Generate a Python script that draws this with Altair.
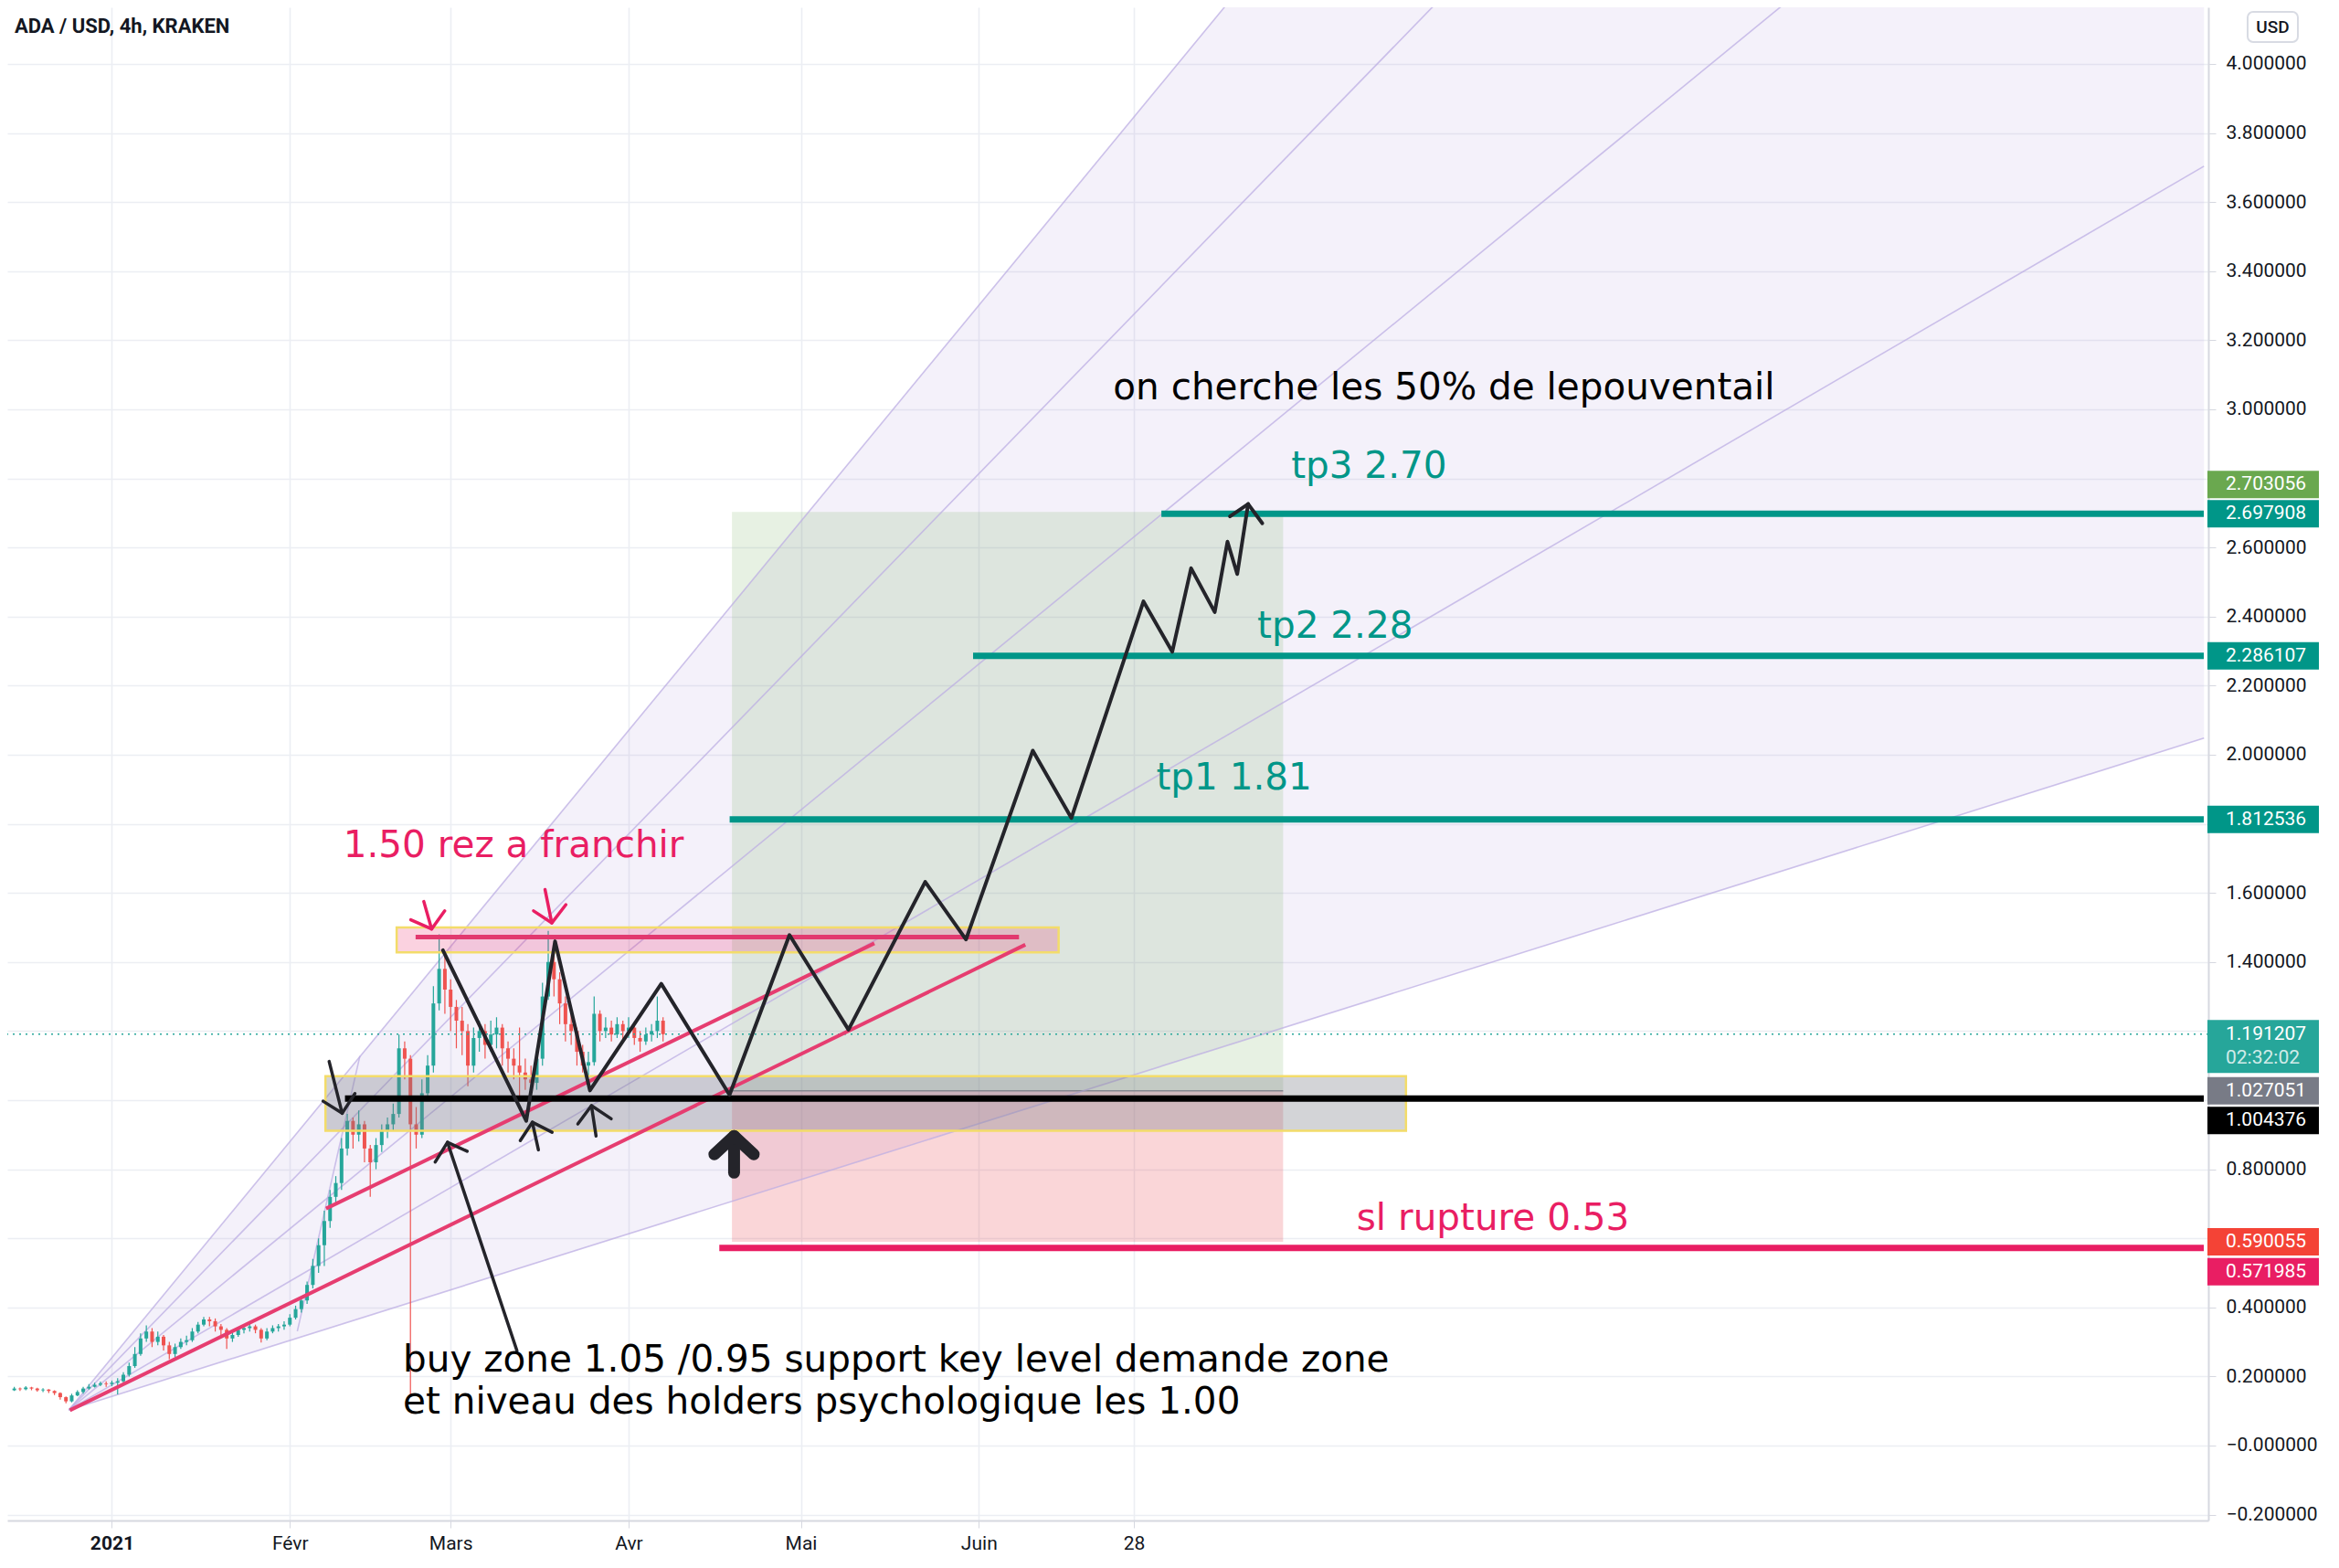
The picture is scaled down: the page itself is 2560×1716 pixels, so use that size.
import altair as alt
import pandas as pd

# ---------------- axes ----------------
X_MIN, X_MAX = -17.42, 364.36          # days from 2021-01-01
Y_MIN, Y_MAX = -0.217, 4.164           # price USD
x_tick_days = [0, 31, 59, 90, 120, 151, 178]
x_tick_labels = ["2021", "Févr", "Mars", "Avr", "Mai", "Juin", "28"]
y_ticks = [-0.2, 0.0, 0.2, 0.4, 0.6, 0.8, 1.0, 1.2, 1.4, 1.6, 1.8, 2.0, 2.2,
           2.4, 2.6, 2.8, 3.0, 3.2, 3.4, 3.6, 3.8, 4.0]
y_ticks_hidden = [0.6, 1.0, 1.2, 1.8, 2.8]   # covered by price labels

# ---------------- candles (daily, ADA/USD) ----------------
candle_day = list(range(-17, 97))
first_open = 0.160
candle_close = [0.165, 0.163, 0.168, 0.165, 0.160, 0.162, 0.158, 0.152, 0.140, 0.128,
                0.145, 0.155, 0.165, 0.170, 0.176, 0.180, 0.178, 0.182, 0.186, 0.205,
                0.230, 0.265, 0.310, 0.330, 0.300, 0.315, 0.290, 0.265, 0.285, 0.300,
                0.305, 0.330, 0.350, 0.365, 0.360, 0.345, 0.335, 0.310, 0.320, 0.335,
                0.340, 0.345, 0.335, 0.310, 0.330, 0.340, 0.345, 0.350, 0.370, 0.395,
                0.420, 0.465, 0.520, 0.580, 0.650, 0.720, 0.760, 0.860, 0.940, 0.900,
                0.930, 0.860, 0.820, 0.870, 0.910, 0.930, 0.960, 1.150, 1.120, 0.930,
                0.900, 1.020, 1.100, 1.280, 1.380, 1.320, 1.270, 1.230, 1.200, 1.100,
                1.180, 1.200, 1.160, 1.190, 1.210, 1.150, 1.120, 1.100, 1.080, 1.060,
                1.050, 1.120, 1.300, 1.400, 1.350, 1.280, 1.220, 1.200, 1.140, 1.100,
                1.110, 1.250, 1.200, 1.210, 1.190, 1.220, 1.200, 1.210, 1.180, 1.170,
                1.190, 1.200, 1.230, 1.191]
candle_high = [0.170, 0.168, 0.172, 0.170, 0.167, 0.166, 0.163, 0.160, 0.154, 0.142,
               0.150, 0.160, 0.170, 0.178, 0.182, 0.185, 0.186, 0.188, 0.195, 0.212,
               0.240, 0.285, 0.325, 0.348, 0.340, 0.330, 0.320, 0.300, 0.295, 0.310,
               0.318, 0.340, 0.358, 0.372, 0.372, 0.368, 0.352, 0.340, 0.330, 0.342,
               0.350, 0.355, 0.350, 0.340, 0.340, 0.348, 0.352, 0.360, 0.380, 0.405,
               0.430, 0.475, 0.540, 0.600, 0.680, 0.740, 0.780, 0.890, 0.960, 0.950,
               0.970, 0.940, 0.870, 0.890, 0.930, 0.950, 0.990, 1.190, 1.170, 1.130,
               0.980, 1.060, 1.130, 1.330, 1.480, 1.420, 1.350, 1.290, 1.270, 1.220,
               1.210, 1.230, 1.220, 1.230, 1.240, 1.220, 1.170, 1.150, 1.210, 1.120,
               1.100, 1.150, 1.340, 1.490, 1.440, 1.370, 1.300, 1.250, 1.210, 1.160,
               1.140, 1.300, 1.260, 1.240, 1.230, 1.240, 1.230, 1.240, 1.220, 1.200,
               1.210, 1.220, 1.300, 1.240]
candle_low = [0.158, 0.158, 0.160, 0.160, 0.156, 0.155, 0.152, 0.146, 0.133, 0.122,
              0.125, 0.143, 0.150, 0.162, 0.168, 0.172, 0.170, 0.172, 0.148, 0.182,
              0.200, 0.225, 0.260, 0.300, 0.285, 0.290, 0.275, 0.250, 0.255, 0.280,
              0.290, 0.300, 0.325, 0.345, 0.345, 0.330, 0.318, 0.280, 0.300, 0.315,
              0.325, 0.330, 0.325, 0.298, 0.305, 0.325, 0.330, 0.335, 0.345, 0.365,
              0.385, 0.410, 0.455, 0.500, 0.520, 0.630, 0.700, 0.740, 0.840, 0.860,
              0.880, 0.820, 0.720, 0.800, 0.850, 0.890, 0.910, 0.950, 1.060, 0.147,
              0.860, 0.890, 1.000, 1.080, 1.260, 1.250, 1.200, 1.150, 1.130, 1.040,
              1.080, 1.140, 1.120, 1.140, 1.150, 1.100, 1.080, 1.060, 1.010, 1.030,
              1.010, 1.030, 1.100, 1.290, 1.300, 1.220, 1.170, 1.160, 1.100, 1.080,
              1.070, 1.100, 1.170, 1.180, 1.170, 1.180, 1.170, 1.180, 1.160, 1.140,
              1.160, 1.170, 1.180, 1.170]

# ---------------- fan (origin + end points) ----------------
fan_origin_d, fan_origin_v = -7.5, 0.103
fan_end_d = [194.8, 231.2, 292.1, 364.4, 364.4]
fan_end_v = [4.185, 4.185, 4.185, 3.704, 2.048]
fan_anchor_d = [32.3, 43.2]
fan_anchor_v = [0.331, 1.128]

# ---------------- zigzag projection ----------------
zz_d = [57.65, 72.17, 77.19, 83.26, 95.69, 107.58, 118.02, 128.30, 141.66, 148.76,
        160.40, 167.13, 179.68, 184.69, 187.97, 192.09, 194.31, 196.01, 197.91]
zz_v = [1.434, 0.940, 1.460, 1.028, 1.337, 1.015, 1.478, 1.204, 1.632, 1.465,
        2.012, 1.817, 2.444, 2.298, 2.540, 2.413, 2.617, 2.523, 2.726]
zz_head_d = [194.74, 197.91, 200.38]
zz_head_v = [2.690, 2.726, 2.670]

# ---------------- hand drawn arrows (polylines) ----------------
black_arrows = [
    [(37.84, 1.112), (40.11, 0.962)], [(36.78, 0.997), (40.11, 0.962), (42.33, 1.019)],
    [(70.54, 0.275), (58.45, 0.878)], [(56.32, 0.821), (58.45, 0.878), (61.87, 0.852)],
    [(74.29, 0.856), (73.23, 0.936)], [(71.13, 0.883), (73.23, 0.936), (76.67, 0.907)],
    [(84.33, 0.896), (83.53, 0.984)], [(81.16, 0.931), (83.53, 0.984), (86.97, 0.946)],
]
big_arrow = [
    [(108.37, 0.790), (108.37, 0.896)], [(104.94, 0.843), (108.37, 0.896), (111.79, 0.843)],
]
pink_arrows = [
    [(54.33, 1.575), (55.69, 1.4955)], [(52.06, 1.522), (55.69, 1.4955), (57.97, 1.548)],
    [(75.44, 1.610), (76.62, 1.513)], [(73.44, 1.548), (76.62, 1.513), (79.08, 1.566)],
]

# ---------------- trend lines ----------------
pink_tl_d0 = [-7.32, 37.3]
pink_tl_v0 = [0.102, 0.686]
pink_tl_d1 = [159.1, 132.8]
pink_tl_v1 = [1.450, 1.454]

# ---------------- zones / position tool ----------------
res_zone = dict(d0=49.6, d1=164.9, v0=1.428, v1=1.500)
res_line = dict(d0=52.9, d1=158.0, v=1.472)
buy_zone = dict(d0=37.2, d1=225.4, v0=0.911, v1=1.0696)
pos_d0, pos_d1 = 108.0, 204.0
pos_target, pos_entry, pos_stop = 2.703056, 1.027051, 0.590055

level_names = ["tp3", "tp2", "tp1", "sl", "support"]
level_v = [2.697908, 2.286107, 1.812536, 0.571985, 1.004376]
level_start_d = [182.8, 150.0, 107.6, 105.8, 40.6]
level_color = ["#009688", "#009688", "#009688", "#e91e63", "#000000"]
last_price = 1.191207

# ---------------- annotations ----------------
note_text = ["1.50 rez a franchir",
             "buy zone 1.05 /0.95 support key level demande zone\n"
             "et niveau des holders psychologique les 1.00",
             "sl rupture 0.53", "tp1 1.81", "tp2 2.28", "tp3 2.70",
             "on cherche les 50% de lepouventail"]
note_d = [40.3, 50.7, 216.8, 181.9, 199.5, 205.4, 174.4]
note_v = [1.735, 0.246, 0.656, 1.931, 2.370, 2.833, 3.062]
note_color = ["#e91e63", "#000000", "#e91e63", "#009688", "#009688",
              "#009688", "#000000"]

# ---------------- price-scale labels ----------------
label_text = ["2.703056", "2.697908", "2.286107", "1.812536", "1.027051",
              "1.004376", "0.590055", "0.571985"]
label_v = [2.703056, 2.697908, 2.286107, 1.812536, 1.027051, 1.004376, 0.590055, 0.571985]
label_color = ["#6aa84f", "#009688", "#009688", "#009688", "#787b86", "#000000",
               "#f44336", "#e91e63"]
label_shift_px = [-30, 0, 0, 0, 0, 24, 0, 26]
countdown_text = "02:32:02"

W, H = 2409, 1656

# ================= build =================
xscale = alt.Scale(domain=[X_MIN, X_MAX], nice=False, zero=False)
yscale = alt.Scale(domain=[Y_MIN, Y_MAX], nice=False, zero=False)

lab_expr = "''"
for val, lab in reversed(list(zip(x_tick_days, x_tick_labels))):
    lab_expr = f"datum.value == {val} ? '{lab}' : ({lab_expr})"

hidden = "[" + ",".join(str(h) for h in y_ticks_hidden) + "]"
ylab_expr = (f"indexof({hidden}, datum.value) >= 0 ? '' : "
             "(datum.value == 0 ? '\u22120.000000' : format(datum.value, '.6f'))")

xaxis = alt.Axis(values=x_tick_days, labelExpr=lab_expr, title=None, grid=True,
                 gridColor="#eceef3", gridWidth=1.6, domainColor="#d6d8e0", domainWidth=2,
                 tickColor="#d6d8e0", tickSize=8, labelFont="Roboto", labelFontSize=21,
                 labelColor="#131722", labelPadding=6, labelFlush=False, labelOverlap=False,
                 labelFontWeight={"condition": {"test": "datum.value == 0", "value": "bold"},
                                  "value": "normal"})
yaxis = alt.Axis(orient="right", values=y_ticks, labelExpr=ylab_expr,
                 title=None, grid=True, gridColor="#eceef3", gridWidth=1.6,
                 domainColor="#d6d8e0", domainWidth=2, tickColor="#d6d8e0", tickSize=8,
                 labelFont="Roboto", labelFontSize=21, labelColor="#131722",
                 labelPadding=11, labelFlush=False, labelOverlap=False)


def X(f):
    return alt.X(f"{f}:Q", scale=xscale, axis=xaxis)


def Y(f):
    return alt.Y(f"{f}:Q", scale=yscale, axis=yaxis)


def polylines(lines):
    rows = []
    for i, pts in enumerate(lines):
        for j, (d, v) in enumerate(pts):
            rows.append({"id": i, "seq": j, "d": d, "v": v})
    return pd.DataFrame(rows)


def line_layer(lines, color, width, opacity=1.0, cap="round", clip=True):
    return alt.Chart(polylines(lines)).mark_line(
        color=color, strokeWidth=width, strokeCap=cap, strokeJoin="round",
        opacity=opacity, clip=clip
    ).encode(x=X("d"), y=Y("v"), detail="id:N", order="seq:Q")


# fan fill
L5_at_top = fan_origin_v + (fan_end_v[4] - fan_origin_v) * (fan_end_d[0] - fan_origin_d) / (fan_end_d[4] - fan_origin_d)
fan_fill_df = pd.DataFrame({
    "d": [fan_origin_d, fan_end_d[0], fan_end_d[4]],
    "hi": [fan_origin_v, fan_end_v[0], fan_end_v[0]],
    "lo": [fan_origin_v, L5_at_top, fan_end_v[4]],
})
fan_fill = alt.Chart(fan_fill_df).mark_area(color="#9575cd", opacity=0.1, clip=True).encode(
    x=X("d"), y=Y("hi"), y2="lo:Q")

fan_lines = line_layer([[(fan_origin_d, fan_origin_v), (d, v)] for d, v in zip(fan_end_d, fan_end_v)]
                       + [list(zip(fan_anchor_d, fan_anchor_v))],
                       "#bcaee3", 1.6, opacity=0.75, cap="butt")

# position tool boxes
pos_df = pd.DataFrame({"d0": [pos_d0, pos_d0], "d1": [pos_d1, pos_d1],
                       "v0": [pos_entry, pos_stop], "v1": [pos_target, pos_entry],
                       "c": ["rgba(106,168,79,0.16)", "rgba(230,50,60,0.2)"]})
pos_boxes = alt.Chart(pos_df).mark_rect().encode(
    x=X("d0"), x2="d1:Q", y=Y("v0"), y2="v1:Q", color=alt.Color("c:N", scale=None))
entry_line = alt.Chart(pd.DataFrame({"d0": [pos_d0], "d1": [pos_d1], "v": [pos_entry]})).mark_rule(
    color="#8a8d96", strokeWidth=1.6).encode(x=X("d0"), x2="d1:Q", y=Y("v"))

# zones
buy_box = alt.Chart(pd.DataFrame([buy_zone])).mark_rect(
    fill="rgba(120,123,134,0.33)", stroke="#f3dc6a", strokeWidth=2.5).encode(
    x=X("d0"), x2="d1:Q", y=Y("v0"), y2="v1:Q")
res_box = alt.Chart(pd.DataFrame([res_zone])).mark_rect(
    fill="rgba(233,30,99,0.2)", stroke="#f3dc6a", strokeWidth=2.5).encode(
    x=X("d0"), x2="d1:Q", y=Y("v0"), y2="v1:Q")
res_hline = alt.Chart(pd.DataFrame([res_line])).mark_rule(
    color="#e2396f", strokeWidth=5).encode(x=X("d0"), x2="d1:Q", y=Y("v"))

# candles
cdf = pd.DataFrame({"d": candle_day, "close": candle_close, "high": candle_high, "low": candle_low})
cdf["open"] = [first_open] + candle_close[:-1]
ccolor = alt.condition("datum.close >= datum.open", alt.value("#26a69a"), alt.value("#ef5350"))
wicks = alt.Chart(cdf).mark_rule(strokeWidth=1.2, clip=True).encode(
    x=X("d"), y=Y("low"), y2="high:Q", color=ccolor)
bodies = alt.Chart(cdf).mark_bar(size=4, clip=True).encode(
    x=X("d"), y=Y("open"), y2="close:Q", color=ccolor)

last_line = alt.Chart(pd.DataFrame({"v": [last_price]})).mark_rule(
    color="#26a69a", strokeWidth=1.6, strokeDash=[2, 5]).encode(y=Y("v"))

pink_tl = line_layer([[(a, b), (c, d)] for a, b, c, d in zip(pink_tl_d0, pink_tl_v0, pink_tl_d1, pink_tl_v1)],
                     "#e63d70", 4, cap="butt")

lev_df = pd.DataFrame({"name": level_names, "v": level_v, "d0": level_start_d,
                       "d1": [X_MAX] * len(level_v), "c": level_color})
levels = alt.Chart(lev_df).mark_rule(strokeWidth=7).encode(
    x=X("d0"), x2="d1:Q", y=Y("v"), color=alt.Color("c:N", scale=None))

zigzag = line_layer([list(zip(zz_d, zz_v)), list(zip(zz_head_d, zz_head_v))], "#24242a", 4)
arrows_k = line_layer(black_arrows, "#24242a", 3.5)
arrow_big = line_layer(big_arrow, "#24242a", 13)
arrows_p = line_layer(pink_arrows, "#e91e63", 3.5)

notes_df = pd.DataFrame({"d": note_d, "v": note_v, "t": note_text, "c": note_color})
notes = alt.Chart(notes_df).mark_text(font="DejaVu Sans", fontSize=40.5, align="left",
                                      baseline="middle", lineBreak="\n", lineHeight=46).encode(
    x=X("d"), y=Y("v"), text="t:N", color=alt.Color("c:N", scale=None))

# price-scale labels
label_layers = []
for t, v, c, s in zip(label_text, label_v, label_color, label_shift_px):
    df = pd.DataFrame({"v": [v], "t": [t]})
    label_layers.append(alt.Chart(df).mark_rule(color=c, strokeWidth=30, yOffset=s, strokeCap="butt").encode(
        x=alt.value(W - 1), x2=alt.value(W + 121), y=Y("v")))
    label_layers.append(alt.Chart(df).mark_text(color="white", font="Roboto", fontSize=21,
                                                align="left", baseline="middle", yOffset=s).encode(
        x=alt.value(W + 19), y=Y("v"), text="t:N"))
lp_df = pd.DataFrame({"v": [last_price], "t": [f"{last_price:.6f}"], "t2": [countdown_text]})
label_layers.append(alt.Chart(lp_df).mark_rule(color="#26a69a", strokeWidth=58, yOffset=13.5,
                                               strokeCap="butt").encode(
    x=alt.value(W - 1), x2=alt.value(W + 121), y=Y("v")))
label_layers.append(alt.Chart(lp_df).mark_text(color="white", font="Roboto", fontSize=21,
                                               align="left", baseline="middle").encode(
    x=alt.value(W + 19), y=Y("v"), text="t:N"))
label_layers.append(alt.Chart(lp_df).mark_text(color="rgba(255,255,255,0.8)", font="Roboto", fontSize=21,
                                               align="left", baseline="middle", yOffset=26).encode(
    x=alt.value(W + 19), y=Y("v"), text="t2:N"))

# header
hdr = pd.DataFrame({"t": ["ADA / USD, 4h, KRAKEN"], "u": ["USD"]})
title = alt.Chart(hdr).mark_text(font="Roboto", fontSize=22, fontWeight="bold", color="#131722",
                                 align="left", baseline="middle").encode(
    x=alt.value(8), y=alt.value(21), text="t:N")
usd_box = alt.Chart(hdr).mark_rect(fill="white", stroke="#d8dbe3", strokeWidth=2, cornerRadius=6).encode(
    x=alt.value(W + 43), x2=alt.value(W + 98), y=alt.value(5), y2=alt.value(38))
usd_txt = alt.Chart(hdr).mark_text(font="Roboto", fontSize=19, fontWeight=500, color="#131722",
                                   align="center", baseline="middle").encode(
    x=alt.value(W + 70.5), y=alt.value(22), text="u:N")

chart = alt.layer(
    fan_fill, pos_boxes, entry_line, fan_lines, wicks, bodies, buy_box, res_box, res_hline,
    last_line, pink_tl, levels, zigzag, arrows_k, arrow_big, arrows_p, notes,
    *label_layers, title, usd_box, usd_txt
).properties(
    width=W, height=H, background="white",
    autosize=alt.AutoSizeParams(type="none"),
    padding={"left": 0, "top": 0, "right": 135, "bottom": 44},
).configure_view(stroke=None)

chart.save("out.html", embed_options={"renderer": "svg", "actions": False})
